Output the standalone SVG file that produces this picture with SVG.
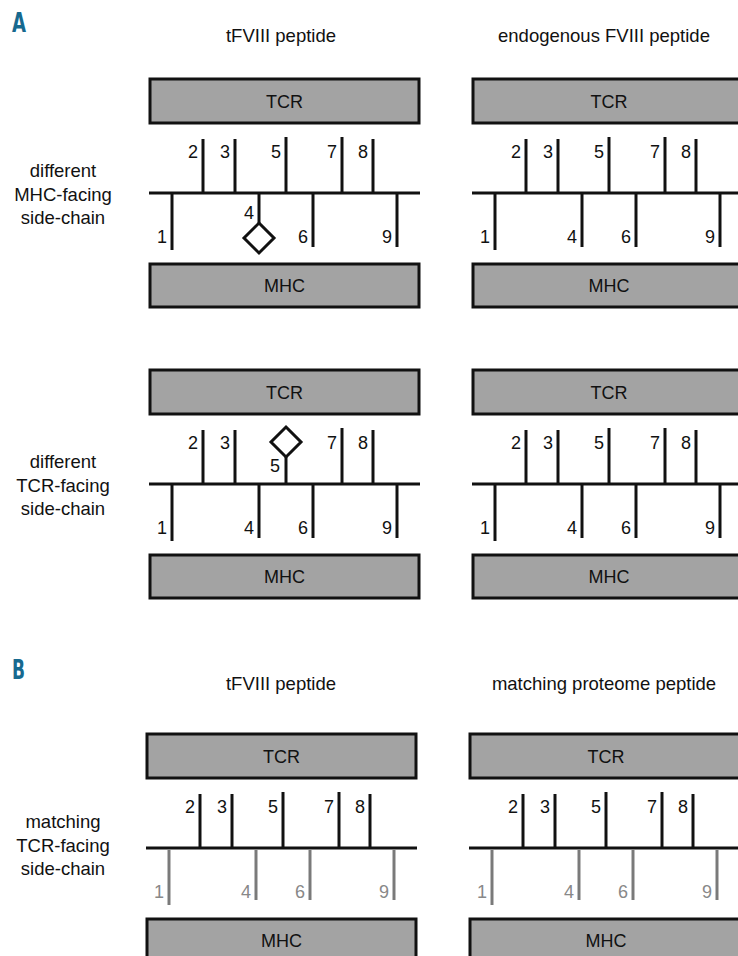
<svg xmlns="http://www.w3.org/2000/svg" xmlns:xlink="http://www.w3.org/1999/xlink" width="738" height="956" viewBox="0 0 738 956">
<style>
text{font-family:"Liberation Sans",Arial,sans-serif;fill:#111;}
.t{font-size:18.5px;text-anchor:middle;}
.n{font-size:18px;text-anchor:end;}
.g{fill:#888;}
.box{fill:#a3a3a3;stroke:#111;stroke-width:3;}
.bl{font-size:18px;text-anchor:middle;}
.st{stroke:#111;stroke-width:3;fill:none;}
.sg{stroke:#7a7a7a;stroke-width:3;fill:none;}
.dia{fill:#fff;stroke:#111;stroke-width:3;stroke-linejoin:miter;}
.sec{font-family:"Liberation Sans Narrow","DejaVu Sans Condensed","Liberation Sans",sans-serif;font-weight:bold;font-size:27px;fill:#17698f;}
</style>
<rect x="0" y="0" width="738" height="956" fill="#fff"/>

<text class="sec" x="12" y="32" textLength="14" lengthAdjust="spacingAndGlyphs">A</text>
<text class="sec" x="12" y="679" textLength="13" lengthAdjust="spacingAndGlyphs">B</text>

<text class="t" x="281" y="42">tFVIII peptide</text>
<text class="t" x="604" y="42">endogenous FVIII peptide</text>
<text class="t" x="281" y="690">tFVIII peptide</text>
<text class="t" x="604" y="690">matching proteome peptide</text>

<g id="label-row1">
<text class="t" x="63" y="177">different</text>
<text class="t" x="63" y="200.5">MHC-facing</text>
<text class="t" x="63" y="224">side-chain</text>
</g>
<g id="label-row2">
<text class="t" x="63" y="468">different</text>
<text class="t" x="63" y="491.5">TCR-facing</text>
<text class="t" x="63" y="515">side-chain</text>
</g>
<g id="label-row3">
<text class="t" x="63" y="828">matching</text>
<text class="t" x="63" y="851.5">TCR-facing</text>
<text class="t" x="63" y="875">side-chain</text>
</g>

<!-- Panel A1 left -->
<g id="panelA1L">
<g id="tcrA1L"><rect class="box" x="150" y="79" width="269" height="44"/><text class="bl" x="284.5" y="107.5">TCR</text></g>
<g id="mhcA1L"><rect class="box" x="150" y="264" width="269" height="43"/><text class="bl" x="284.5" y="292">MHC</text></g>
<g id="pepA1L">
<line class="st" x1="149" y1="193" x2="420" y2="193"/>
<line class="st" x1="203" y1="139" x2="203" y2="193"/>
<line class="st" x1="235" y1="139" x2="235" y2="193"/>
<line class="st" x1="286" y1="137" x2="286" y2="193"/>
<line class="st" x1="342" y1="137" x2="342" y2="193"/>
<line class="st" x1="373" y1="139" x2="373" y2="193"/>
<line class="st" x1="172" y1="193" x2="172" y2="250"/>
<line class="st" x1="259" y1="193" x2="259" y2="223"/>
<polygon class="dia" points="259,223 274,238 259,253 244,238"/>
<line class="st" x1="313" y1="193" x2="313" y2="247"/>
<line class="st" x1="397" y1="193" x2="397" y2="247"/>
<text class="n" x="198" y="158">2</text>
<text class="n" x="230" y="158">3</text>
<text class="n" x="281" y="158">5</text>
<text class="n" x="337" y="158">7</text>
<text class="n" x="368" y="158">8</text>
<text class="n" x="167" y="243">1</text>
<text class="n" x="254" y="219">4</text>
<text class="n" x="308" y="243">6</text>
<text class="n" x="392" y="243">9</text>
</g>
</g>

<!-- Panel A1 right -->
<g id="panelA1R" transform="translate(323,0)">
<g id="tcrA1R"><rect class="box" x="150" y="79" width="300" height="44"/><text class="bl" x="286" y="107.5">TCR</text></g>
<g id="mhcA1R"><rect class="box" x="150" y="264" width="300" height="43"/><text class="bl" x="286" y="292">MHC</text></g>
<g id="pepA1R">
<line class="st" x1="149" y1="193" x2="450" y2="193"/>
<line class="st" x1="203" y1="139" x2="203" y2="193"/>
<line class="st" x1="235" y1="139" x2="235" y2="193"/>
<line class="st" x1="286" y1="137" x2="286" y2="193"/>
<line class="st" x1="342" y1="137" x2="342" y2="193"/>
<line class="st" x1="373" y1="139" x2="373" y2="193"/>
<line class="st" x1="172" y1="193" x2="172" y2="250"/>
<line class="st" x1="259" y1="193" x2="259" y2="247"/>
<line class="st" x1="313" y1="193" x2="313" y2="247"/>
<line class="st" x1="397" y1="193" x2="397" y2="247"/>
<text class="n" x="198" y="158">2</text>
<text class="n" x="230" y="158">3</text>
<text class="n" x="281" y="158">5</text>
<text class="n" x="337" y="158">7</text>
<text class="n" x="368" y="158">8</text>
<text class="n" x="167" y="243">1</text>
<text class="n" x="254" y="243">4</text>
<text class="n" x="308" y="243">6</text>
<text class="n" x="392" y="243">9</text>
</g>
</g>

<!-- Panel A2 left -->
<g id="panelA2L" transform="translate(0,291)">
<g id="tcrA2L"><rect class="box" x="150" y="79" width="269" height="44"/><text class="bl" x="284.5" y="107.5">TCR</text></g>
<g id="mhcA2L"><rect class="box" x="150" y="264" width="269" height="43"/><text class="bl" x="284.5" y="292">MHC</text></g>
<g id="pepA2L">
<line class="st" x1="149" y1="193" x2="420" y2="193"/>
<line class="st" x1="203" y1="139" x2="203" y2="193"/>
<line class="st" x1="235" y1="139" x2="235" y2="193"/>
<line class="st" x1="286" y1="166" x2="286" y2="193"/>
<polygon class="dia" points="286,136 301,151 286,166 271,151"/>
<line class="st" x1="342" y1="137" x2="342" y2="193"/>
<line class="st" x1="373" y1="139" x2="373" y2="193"/>
<line class="st" x1="172" y1="193" x2="172" y2="250"/>
<line class="st" x1="259" y1="193" x2="259" y2="247"/>
<line class="st" x1="313" y1="193" x2="313" y2="247"/>
<line class="st" x1="397" y1="193" x2="397" y2="247"/>
<text class="n" x="198" y="158">2</text>
<text class="n" x="230" y="158">3</text>
<text class="n" x="280" y="181">5</text>
<text class="n" x="337" y="158">7</text>
<text class="n" x="368" y="158">8</text>
<text class="n" x="167" y="243">1</text>
<text class="n" x="254" y="243">4</text>
<text class="n" x="308" y="243">6</text>
<text class="n" x="392" y="243">9</text>
</g>
</g>

<!-- Panel A2 right -->
<g id="panelA2R" transform="translate(323,291)">
<g id="tcrA2R"><rect class="box" x="150" y="79" width="300" height="44"/><text class="bl" x="286" y="107.5">TCR</text></g>
<g id="mhcA2R"><rect class="box" x="150" y="264" width="300" height="43"/><text class="bl" x="286" y="292">MHC</text></g>
<g id="pepA2R">
<line class="st" x1="149" y1="193" x2="450" y2="193"/>
<line class="st" x1="203" y1="139" x2="203" y2="193"/>
<line class="st" x1="235" y1="139" x2="235" y2="193"/>
<line class="st" x1="286" y1="137" x2="286" y2="193"/>
<line class="st" x1="342" y1="137" x2="342" y2="193"/>
<line class="st" x1="373" y1="139" x2="373" y2="193"/>
<line class="st" x1="172" y1="193" x2="172" y2="250"/>
<line class="st" x1="259" y1="193" x2="259" y2="247"/>
<line class="st" x1="313" y1="193" x2="313" y2="247"/>
<line class="st" x1="397" y1="193" x2="397" y2="247"/>
<text class="n" x="198" y="158">2</text>
<text class="n" x="230" y="158">3</text>
<text class="n" x="281" y="158">5</text>
<text class="n" x="337" y="158">7</text>
<text class="n" x="368" y="158">8</text>
<text class="n" x="167" y="243">1</text>
<text class="n" x="254" y="243">4</text>
<text class="n" x="308" y="243">6</text>
<text class="n" x="392" y="243">9</text>
</g>
</g>

<!-- Panel B left -->
<g id="panelBL" transform="translate(-3,655)">
<g id="tcrBL"><rect class="box" x="150" y="79" width="269" height="44"/><text class="bl" x="284.5" y="107.5">TCR</text></g>
<g id="mhcBL"><rect class="box" x="150" y="264" width="269" height="60"/><text class="bl" x="284.5" y="292">MHC</text></g>
<g id="pepBL">
<line class="st" x1="149" y1="193" x2="420" y2="193"/>
<line class="st" x1="203" y1="139" x2="203" y2="193"/>
<line class="st" x1="235" y1="139" x2="235" y2="193"/>
<line class="st" x1="286" y1="137" x2="286" y2="193"/>
<line class="st" x1="342" y1="137" x2="342" y2="193"/>
<line class="st" x1="373" y1="139" x2="373" y2="193"/>
<line class="sg" x1="172" y1="195" x2="172" y2="250"/>
<line class="sg" x1="259" y1="195" x2="259" y2="245"/>
<line class="sg" x1="313" y1="195" x2="313" y2="245"/>
<line class="sg" x1="397" y1="195" x2="397" y2="245"/>
<text class="n" x="198" y="158">2</text>
<text class="n" x="230" y="158">3</text>
<text class="n" x="281" y="158">5</text>
<text class="n" x="337" y="158">7</text>
<text class="n" x="368" y="158">8</text>
<text class="n g" x="167" y="243">1</text>
<text class="n g" x="254" y="243">4</text>
<text class="n g" x="308" y="243">6</text>
<text class="n g" x="392" y="243">9</text>
</g>
</g>

<!-- Panel B right -->
<g id="panelBR" transform="translate(320,655)">
<g id="tcrBR"><rect class="box" x="150" y="79" width="300" height="44"/><text class="bl" x="286" y="107.5">TCR</text></g>
<g id="mhcBR"><rect class="box" x="150" y="264" width="300" height="60"/><text class="bl" x="286" y="292">MHC</text></g>
<g id="pepBR">
<line class="st" x1="149" y1="193" x2="450" y2="193"/>
<line class="st" x1="203" y1="139" x2="203" y2="193"/>
<line class="st" x1="235" y1="139" x2="235" y2="193"/>
<line class="st" x1="286" y1="137" x2="286" y2="193"/>
<line class="st" x1="342" y1="137" x2="342" y2="193"/>
<line class="st" x1="373" y1="139" x2="373" y2="193"/>
<line class="sg" x1="172" y1="195" x2="172" y2="250"/>
<line class="sg" x1="259" y1="195" x2="259" y2="245"/>
<line class="sg" x1="313" y1="195" x2="313" y2="245"/>
<line class="sg" x1="397" y1="195" x2="397" y2="245"/>
<text class="n" x="198" y="158">2</text>
<text class="n" x="230" y="158">3</text>
<text class="n" x="281" y="158">5</text>
<text class="n" x="337" y="158">7</text>
<text class="n" x="368" y="158">8</text>
<text class="n g" x="167" y="243">1</text>
<text class="n g" x="254" y="243">4</text>
<text class="n g" x="308" y="243">6</text>
<text class="n g" x="392" y="243">9</text>
</g>
</g>
</svg>
